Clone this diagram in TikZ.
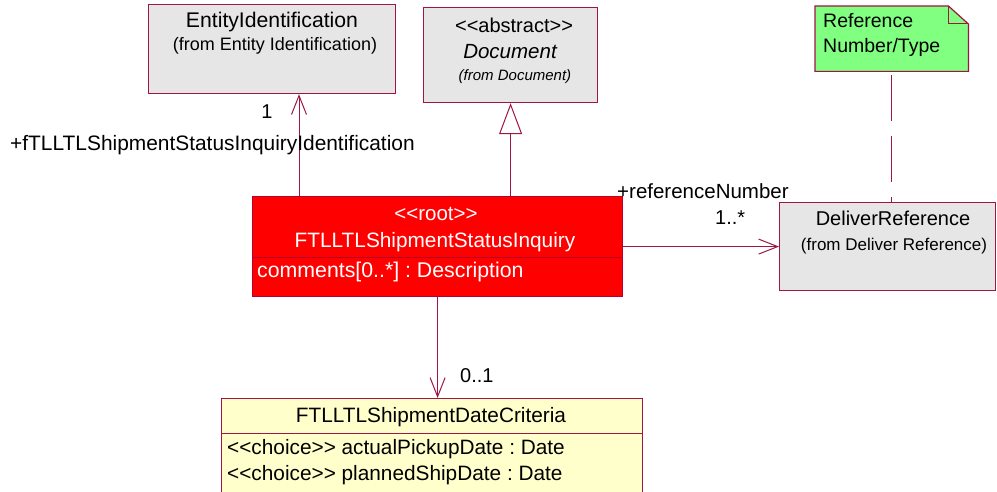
\documentclass[tikz,border=0pt]{standalone}
\usepackage{fontspec}
\setmainfont{Liberation Sans}
\usetikzlibrary{arrows.meta}
\frenchspacing
\definecolor{umlline}{RGB}{160,20,70}
\definecolor{umlgrey}{RGB}{230,230,230}
\definecolor{umlyellow}{RGB}{255,255,204}
\definecolor{umlgreen}{RGB}{128,255,128}
\definecolor{umlred}{RGB}{255,0,0}
\definecolor{umlredline}{RGB}{185,0,45}
\tikzset{
  box/.style={draw=umlline, line width=1.2pt, anchor=north west, inner sep=0pt},
  greybox/.style={box, fill=umlgrey},
  fs/.style={font=\fontsize{#1}{#1}\selectfont\frenchspacing},
  txt/.style={inner sep=0pt, text=black},
  assoc/.style={draw=umlline, line width=1pt, -{Straight Barb[length=19pt,width=15pt,line width=1pt]}},
  gen/.style={draw=umlline, line width=1pt, -{Triangle[open,length=31pt,width=23pt,fill=white,line width=1pt]}},
  notedash/.style={draw=umlline, line width=1pt, dash pattern=on 46pt off 15pt, dash phase=57pt}
}
\begin{document}
\begin{tikzpicture}[x=1pt,y=-1pt]
\useasboundingbox (0,0) rectangle (997,492);
\clip (0,0) rectangle (997,492);
% boxes
\node[greybox, minimum width=247pt, minimum height=89pt] (ent) at (148,4) {};
\node[greybox, minimum width=174pt, minimum height=95pt] (doc) at (423,7) {};
\node[greybox, minimum width=216pt, minimum height=88pt] (dr) at (779,202) {};
\node[box, draw=umlredline, fill=umlred, minimum width=370pt, minimum height=100pt] (red) at (252,196) {};
\node[box, fill=umlyellow, minimum width=421pt, minimum height=110pt] (crit) at (221,398) {};
\draw[draw=umlredline, line width=1pt] ([yshift=-61pt]red.north west) -- ([yshift=-61pt]red.north east);
\draw[draw=umlline, line width=1pt] ([yshift=-35pt]crit.north west) -- ([yshift=-35pt]crit.north east);
% note
\node[inner sep=0pt, anchor=north west, minimum width=153pt, minimum height=65pt] (note) at (815,6) {};
\draw[draw=umlline, line width=1.2pt, fill=umlgreen] (note.north west) -- ([xshift=-20pt]note.north east) -- ([yshift=-18pt]note.north east) -- (note.south east) -- (note.south west) -- cycle;
\draw[draw=umlline, line width=1pt] ([xshift=-20pt]note.north east) -- ([xshift=-20pt,yshift=-18pt]note.north east) -- ([yshift=-18pt]note.north east);
% texts
\node[txt, fs=21.2] (entname) at (272,22) {EntityIdentification};
\node[txt, fs=18] (entfrom) at (275,46) {(from Entity Identification)};
\node[txt, fs=20] (docst) at (514,25) {<{}<abstract>{}>};
\node[txt, font=\fontsize{20.5}{20.5}\selectfont\itshape] (docname) at (510,52) {Document};
\node[txt, font=\fontsize{15}{15}\selectfont\itshape] (docfrom) at (515,77) {(from Document)};
\node[txt, fs=19.5, anchor=west] (note1) at (823,21) {Reference};
\node[txt, fs=19.5, anchor=west] (note2) at (823,47) {Number/Type};
\node[txt, fs=20.5, text=white] (redst) at (436,214) {<{}<root>{}>};
\node[txt, fs=20.8, text=white] (redname) at (435,242) {FTLLTLShipmentStatusInquiry};
\node[txt, fs=21.3, text=white, anchor=west] (redattr) at (257,272) {comments[0..*] : Description};
\node[txt, fs=20] (drname) at (893,218) {DeliverReference};
\node[txt, fs=17] (drfrom) at (894,246) {(from Deliver Reference)};
\node[txt, fs=20.8] (critname) at (431,417) {FTLLTLShipmentDateCriteria};
\node[txt, fs=20.8, anchor=west] (crit1) at (227,449) {<{}<choice>{}> actualPickupDate : Date};
\node[txt, fs=20.8, anchor=west] (crit2) at (227,475) {<{}<choice>{}> plannedShipDate : Date};
% connectors
\draw[assoc] ([xshift=47pt]red.north west) -- ([xshift=47pt]red.north west |- ent.south);
\draw[gen] (doc.south |- red.north) -- (doc.south);
\draw[assoc] (red.east) -- (dr.west);
\draw[assoc] (red.south) -- (red.south |- crit.north);
\draw[notedash] (note.south) -- (note.south |- dr.north);
% labels
\node[txt, fs=20] (l1) at (267,112) {1};
\node[txt, fs=20.9, anchor=west] (lrole) at (10,145) {+fTLLTLShipmentStatusInquiryIdentification};
\node[txt, fs=20.5, anchor=west] (lref) at (617,191) {+referenceNumber};
\node[txt, fs=20, anchor=west] (lmany) at (715,218) {1..*};
\node[txt, fs=20, anchor=west] (lopt) at (460,376) {0..1};
\end{tikzpicture}
\end{document}
